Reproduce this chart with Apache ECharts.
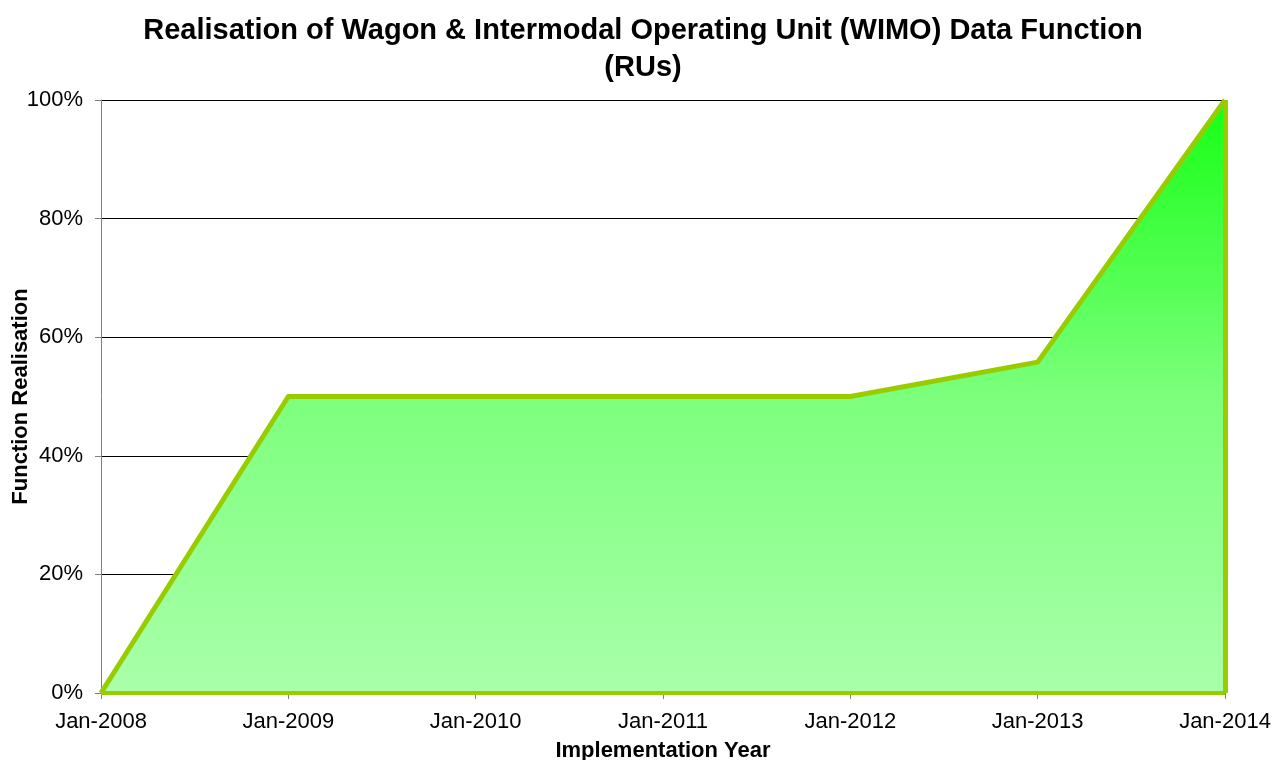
<!DOCTYPE html>
<html><head><meta charset="utf-8">
<script src="https://cdn.jsdelivr.net/npm/echarts@6/dist/echarts.min.js"></script>
<style>html,body{margin:0;padding:0;background:#fff}#c{width:1287px;height:760px}</style>
</head><body><div id="c"></div>
<script>
const categories = ['Jan-2008','Jan-2009','Jan-2010','Jan-2011','Jan-2012','Jan-2013','Jan-2014'];
const realisation = [0, 50, 50, 50, 50, 55.8, 100];
const baseline = [0, 0, 0, 0, 0, 0, 0];
const yTicks = [0, 20, 40, 60, 80, 100];

const chart = echarts.init(document.getElementById('c'));
const F = '"Liberation Sans", Arial, sans-serif';
const lineCol = '#99cc00';
chart.setOption({
  animation: false,
  title: {
    text: 'Realisation of Wagon & Intermodal Operating Unit (WIMO) Data Function\n(RUs)',
    left: 638, top: 7, textAlign: 'center',
    textStyle: {fontFamily: F, fontSize: 29, fontWeight: 'bold', color: '#000', lineHeight: 37}
  },
  grid: {left: 101, right: 62, top: 100, bottom: 67, containLabel: false, outerBoundsMode: 'none'},
  xAxis: {
    type: 'category', data: categories, boundaryGap: false,
    name: 'Implementation Year', nameLocation: 'middle', nameGap: 47, nameMoveOverlap: false,
    nameTextStyle: {fontFamily: F, fontSize: 22, fontWeight: 'bold', color: '#000'},
    axisLine: {lineStyle: {color: '#808080', width: 1}},
    axisTick: {show: true, alignWithLabel: true, length: 6, lineStyle: {color: '#808080'}},
    axisLabel: {fontFamily: F, fontSize: 22, color: '#000', margin: 18},
    splitLine: {show: false}
  },
  yAxis: {
    type: 'value', min: 0, max: 100, interval: 20,
    name: 'Function Realisation', nameLocation: 'middle', nameGap: 69, nameMoveOverlap: false,
    nameTextStyle: {fontFamily: F, fontSize: 22, fontWeight: 'bold', color: '#000'},
    axisLine: {show: true, lineStyle: {color: '#808080', width: 1}},
    axisTick: {show: true, length: 6, lineStyle: {color: '#808080'}},
    axisLabel: {fontFamily: F, fontSize: 22, color: '#000', margin: 18,
      formatter: v => yTicks.includes(v) ? v + '%' : ''},
    splitLine: {show: true, lineStyle: {color: '#000', width: 1}}
  },
  series: [
    {
      type: 'line', data: realisation, symbol: 'none', z: 3,
      lineStyle: {color: lineCol, width: 5, join: 'round'},
      areaStyle: {
        opacity: 1,
        color: new echarts.graphic.LinearGradient(0, 0, 0, 1, [
          {offset: 0, color: '#16ff16'},
          {offset: 0.5, color: '#7dff7d'},
          {offset: 1, color: '#aaffaa'}
        ])
      },
      markLine: {
        silent: true, symbol: 'none', label: {show: false},
        lineStyle: {color: lineCol, width: 5, type: 'solid'},
        data: [[{coord: ['Jan-2014', 0]}, {coord: ['Jan-2014', 100]}]]
      }
    },
    {
      type: 'line', data: baseline, symbol: 'none', z: 4,
      lineStyle: {color: lineCol, width: 4}
    }
  ]
});
</script></body></html>
